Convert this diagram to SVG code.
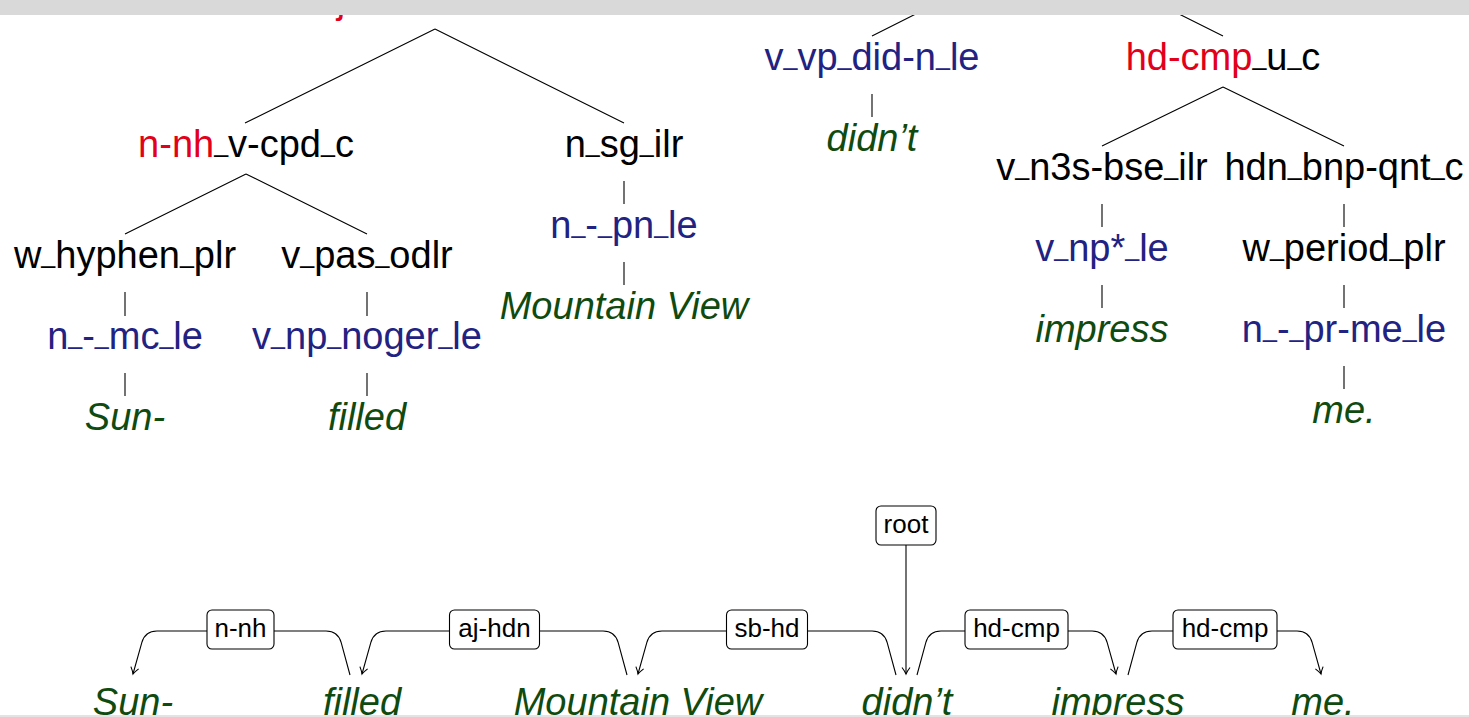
<svg xmlns="http://www.w3.org/2000/svg" width="1469" height="717" viewBox="0 0 1469 717">
<style>
  text { font-family: "Liberation Sans", Arial, Helvetica, sans-serif; font-size: 38px; text-anchor: middle; }
  .rule { fill: #000; }
  .hd { fill: #e2001a; }
  .lex { fill: #222282; }
  .word { fill: #0f4a0f; font-style: italic; }
  .u { font-size: 25px; baseline-shift: 5px; }
  .edge { fill: none; stroke: #000; stroke-width: 1.1; }
  .dep { fill: none; stroke: #000; stroke-width: 1.1; marker-end: url(#arrow); }
  .lbl rect { fill: #fff; stroke: #000; stroke-width: 1.1; }
  .lbl text { font-size: 26px; fill: #000; }
  .bar { fill: #d9d9d9; }
</style>
<defs>
  <marker id="arrow" viewBox="-8 -6 10 12" markerWidth="10" markerHeight="12" refX="0" refY="0" orient="auto" markerUnits="userSpaceOnUse">
    <path d="M-6.5,-4 Q-2.5,-1 0,0 Q-2.5,1 -6.5,4" fill="none" stroke="#000" stroke-width="1.1"/>
  </marker>
</defs>
<rect width="1469" height="717" fill="#fff"/>

<!-- derivation tree: edges -->
<g id="tree-edges">
  <path class="edge" d="M435,29 L245,123 M435,29 L624,123"/>
  <path class="edge" d="M246,174 L125,234 M246,174 L367,234"/>
  <path class="edge" d="M125,292 V316 M367,292 V316 M125,373 V396 M367,373 V396"/>
  <path class="edge" d="M624,181 V204 M624,262 V285"/>
  <path class="edge" d="M1047,-52 L872,36 M1047,-52 L1223,36"/>
  <path class="edge" d="M872,94 V117"/>
  <path class="edge" d="M1223,87 L1102,146 M1223,87 L1344,146"/>
  <path class="edge" d="M1102,204 V227 M1102,285 V308"/>
  <path class="edge" d="M1344,204 V227 M1344,285 V308 M1344,366 V389"/>
</g>

<!-- derivation tree: nodes -->
<g id="t-aj-hdn"><text class="hd" x="315.5" y="12.5" style="text-anchor:start">aj-hdn</text></g>
<g id="t-n-nh"><text x="246" y="157"><tspan class="hd">n-nh</tspan><tspan class="u">_</tspan><tspan>v-cpd</tspan><tspan class="u">_</tspan><tspan>c</tspan></text></g>
<g id="t-w-hyphen"><text x="125" y="268">w<tspan class="u">_</tspan>hyphen<tspan class="u">_</tspan>plr</text></g>
<g id="t-n-mc"><text class="lex" x="125" y="349">n<tspan class="u">_</tspan>-<tspan class="u">_</tspan>mc<tspan class="u">_</tspan>le</text></g>
<g id="t-sun"><text class="word" x="125" y="430">Sun-</text></g>
<g id="t-v-pas"><text x="367" y="268">v<tspan class="u">_</tspan>pas<tspan class="u">_</tspan>odlr</text></g>
<g id="t-v-np-noger"><text class="lex" x="367" y="349">v<tspan class="u">_</tspan>np<tspan class="u">_</tspan>noger<tspan class="u">_</tspan>le</text></g>
<g id="t-filled"><text class="word" x="367" y="430">filled</text></g>
<g id="t-n-sg"><text x="624" y="157">n<tspan class="u">_</tspan>sg<tspan class="u">_</tspan>ilr</text></g>
<g id="t-n-pn"><text class="lex" x="624" y="238">n<tspan class="u">_</tspan>-<tspan class="u">_</tspan>pn<tspan class="u">_</tspan>le</text></g>
<g id="t-mountain-view"><text class="word" x="624" y="319">Mountain View</text></g>
<g id="t-v-vp-did"><text class="lex" x="872" y="70">v<tspan class="u">_</tspan>vp<tspan class="u">_</tspan>did-n<tspan class="u">_</tspan>le</text></g>
<g id="t-didnt"><text class="word" x="872" y="151">didn’t</text></g>
<g id="t-hd-cmp"><text x="1223" y="70"><tspan class="hd">hd-cmp</tspan><tspan class="u">_</tspan>u<tspan class="u">_</tspan>c</text></g>
<g id="t-v-n3s"><text x="1102" y="180">v<tspan class="u">_</tspan>n3s-bse<tspan class="u">_</tspan>ilr</text></g>
<g id="t-v-np-star"><text class="lex" x="1102" y="261">v<tspan class="u">_</tspan>np*<tspan class="u">_</tspan>le</text></g>
<g id="t-impress"><text class="word" x="1102" y="342">impress</text></g>
<g id="t-hdn-bnp"><text x="1344" y="180">hdn<tspan class="u">_</tspan>bnp-qnt<tspan class="u">_</tspan>c</text></g>
<g id="t-w-period"><text x="1344" y="261">w<tspan class="u">_</tspan>period<tspan class="u">_</tspan>plr</text></g>
<g id="t-n-pr-me"><text class="lex" x="1344" y="342">n<tspan class="u">_</tspan>-<tspan class="u">_</tspan>pr-me<tspan class="u">_</tspan>le</text></g>
<g id="t-me"><text class="word" x="1344" y="423">me.</text></g>

<!-- dependency arcs -->
<g id="dep-edges">
  <path class="dep" d="M350,675 L341.2,642.6 Q338,631 326,631 L157,631 Q145,631 141.8,642.6 L133,674"/>
  <path class="dep" d="M627,675 L618.2,642.6 Q615,631 603,631 L386,631 Q374,631 370.8,642.6 L362,674"/>
  <path class="dep" d="M896,675 L887.2,642.6 Q884,631 872,631 L662,631 Q650,631 646.8,642.6 L638,674"/>
  <path class="dep" d="M906,545 L906,674"/>
  <path class="dep" d="M917,675 L925.8,642.6 Q929,631 941,631 L1092,631 Q1104,631 1107.2,642.6 L1116,674"/>
  <path class="dep" d="M1128,675 L1136.8,642.6 Q1140,631 1152,631 L1297,631 Q1309,631 1312.2,642.6 L1321,674"/>
</g>

<!-- dependency labels -->
<g id="d-n-nh" class="lbl"><rect x="207" y="610" width="67" height="39" rx="5"/><text x="240.5" y="637">n-nh</text></g>
<g id="d-aj-hdn" class="lbl"><rect x="449.5" y="610" width="90" height="39" rx="5"/><text x="494.5" y="637">aj-hdn</text></g>
<g id="d-sb-hd" class="lbl"><rect x="726.5" y="610" width="81" height="39" rx="5"/><text x="767" y="637">sb-hd</text></g>
<g id="d-root" class="lbl"><rect x="876" y="506" width="60" height="39" rx="5"/><text x="906" y="533">root</text></g>
<g id="d-hd-cmp-1" class="lbl"><rect x="965" y="610" width="103" height="39" rx="5"/><text x="1016.5" y="637">hd-cmp</text></g>
<g id="d-hd-cmp-2" class="lbl"><rect x="1173" y="610" width="104" height="39" rx="5"/><text x="1225" y="637">hd-cmp</text></g>

<!-- sentence tokens -->
<g id="w-sun"><text class="word" x="133" y="715">Sun-</text></g>
<g id="w-filled"><text class="word" x="362" y="715">filled</text></g>
<g id="w-mountain-view"><text class="word" x="638" y="715">Mountain View</text></g>
<g id="w-didnt"><text class="word" x="907" y="715">didn’t</text></g>
<g id="w-impress"><text class="word" x="1118" y="715">impress</text></g>
<g id="w-me"><text class="word" x="1323" y="715">me.</text></g>

<!-- frame bars -->
<rect class="bar" x="0" y="0" width="1469" height="15"/>
<rect x="0" y="715" width="1469" height="2" fill="#e3e3e3"/>
</svg>
